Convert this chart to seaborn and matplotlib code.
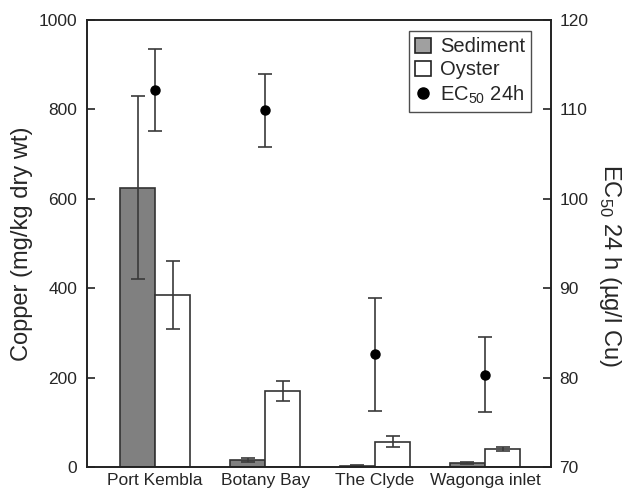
import matplotlib
matplotlib.use("Agg")
import matplotlib.pyplot as plt
import matplotlib.patches as mpatches
import matplotlib.lines as mlines
import numpy as np
import pandas as pd
import seaborn as sns

sites = ['Port Kembla', 'Botany Bay', 'The Clyde', 'Wagonga inlet']
sediment = [625, 16, 3, 9]
sedimentErr = [205, 5, 1, 3]
oyster = [385, 170, 57, 41]
oysterErr = [77, 23, 12, 4.5]
ec50 = [112.2, 109.9, 82.6, 80.3]
ec50Err = [4.6, 4.1, 6.3, 4.2]

sns.set_style('white')
plt.rcParams['font.family'] = ['Liberation Sans', 'DejaVu Sans']
plt.rcParams['mathtext.fontset'] = 'custom'
plt.rcParams['mathtext.rm'] = 'Liberation Sans'

df = pd.DataFrame({
    'site': sites * 2,
    'type': ['Sediment'] * 4 + ['Oyster'] * 4,
    'copper': sediment + oyster,
})

fig = plt.figure(figsize=(6.28, 4.92), dpi=100)
ax = fig.add_axes([0.1385, 0.0508, 0.7389, 0.9085])

sns.barplot(data=df, x='site', y='copper', hue='type', order=sites,
            hue_order=['Sediment', 'Oyster'],
            palette={'Sediment': '#808080', 'Oyster': 'white'},
            edgecolor='#333333', linewidth=1.2, width=0.64,
            errorbar=None, legend=False, ax=ax)

errColor = '#3a3a3a'
for cont, errs in zip(ax.containers, [sedimentErr, oysterErr]):
    xs = [b.get_x() + b.get_width() / 2 for b in cont]
    hs = [b.get_height() for b in cont]
    ax.errorbar(xs, hs, yerr=errs, fmt='none', ecolor=errColor,
                elinewidth=1.2, capsize=5, capthick=1.2)

ax.set_ylim(0, 1000)
ax.set_xlim(-0.62, 3.6)
ax.set_yticks([0, 200, 400, 600, 800, 1000])
ax.set_xlabel('')
ax.set_ylabel('Copper (mg/kg dry wt)', fontsize=17, labelpad=4)
ax.tick_params(axis='y', direction='in', length=6, width=1.2,
               labelsize=12.5, color='#222222', pad=7)
ax.tick_params(axis='x', length=0, labelsize=12.5, pad=4)
for sp in ax.spines.values():
    sp.set_color('#222222')
    sp.set_linewidth(1.2)

ax2 = ax.twinx()
ax2.errorbar(range(len(sites)), ec50, yerr=ec50Err, fmt='o', color='black',
             markersize=6.5, ecolor=errColor, elinewidth=1.2, capsize=5,
             capthick=1.2)
ax2.set_ylim(70, 120)
ax2.set_yticks([70, 80, 90, 100, 110, 120])
ax2.set_ylabel(r'EC$_{50}$ 24 h (µg/l Cu)', fontsize=17, rotation=270,
               labelpad=24)
ax2.yaxis.set_label_coords(1.155, 0.45)
ax2.tick_params(axis='y', direction='in', length=6, width=1.2,
                labelsize=12.5, color='#222222', pad=6)
for sp in ax2.spines.values():
    sp.set_color('#222222')
    sp.set_linewidth(1.2)

handles = [
    mpatches.Patch(facecolor='#a0a0a0', edgecolor='#222222', linewidth=1.2,
                   label='Sediment'),
    mpatches.Patch(facecolor='white', edgecolor='#222222', linewidth=1.2,
                   label='Oyster'),
    mlines.Line2D([], [], marker='o', color='black', linestyle='none',
                  markersize=8, label=r'EC$_{50}$ 24h'),
]
leg = ax2.legend(handles=handles, loc='upper right', fontsize=14.5,
                 frameon=True, fancybox=False, edgecolor='#222222',
                 handlelength=0.8, handleheight=0.8, handletextpad=0.45,
                 borderpad=0.3, labelspacing=0.2, borderaxespad=0,
                 bbox_to_anchor=(0.957, 0.975))
leg.get_frame().set_linewidth(1.0)

fig.savefig('out.png', dpi=100)
